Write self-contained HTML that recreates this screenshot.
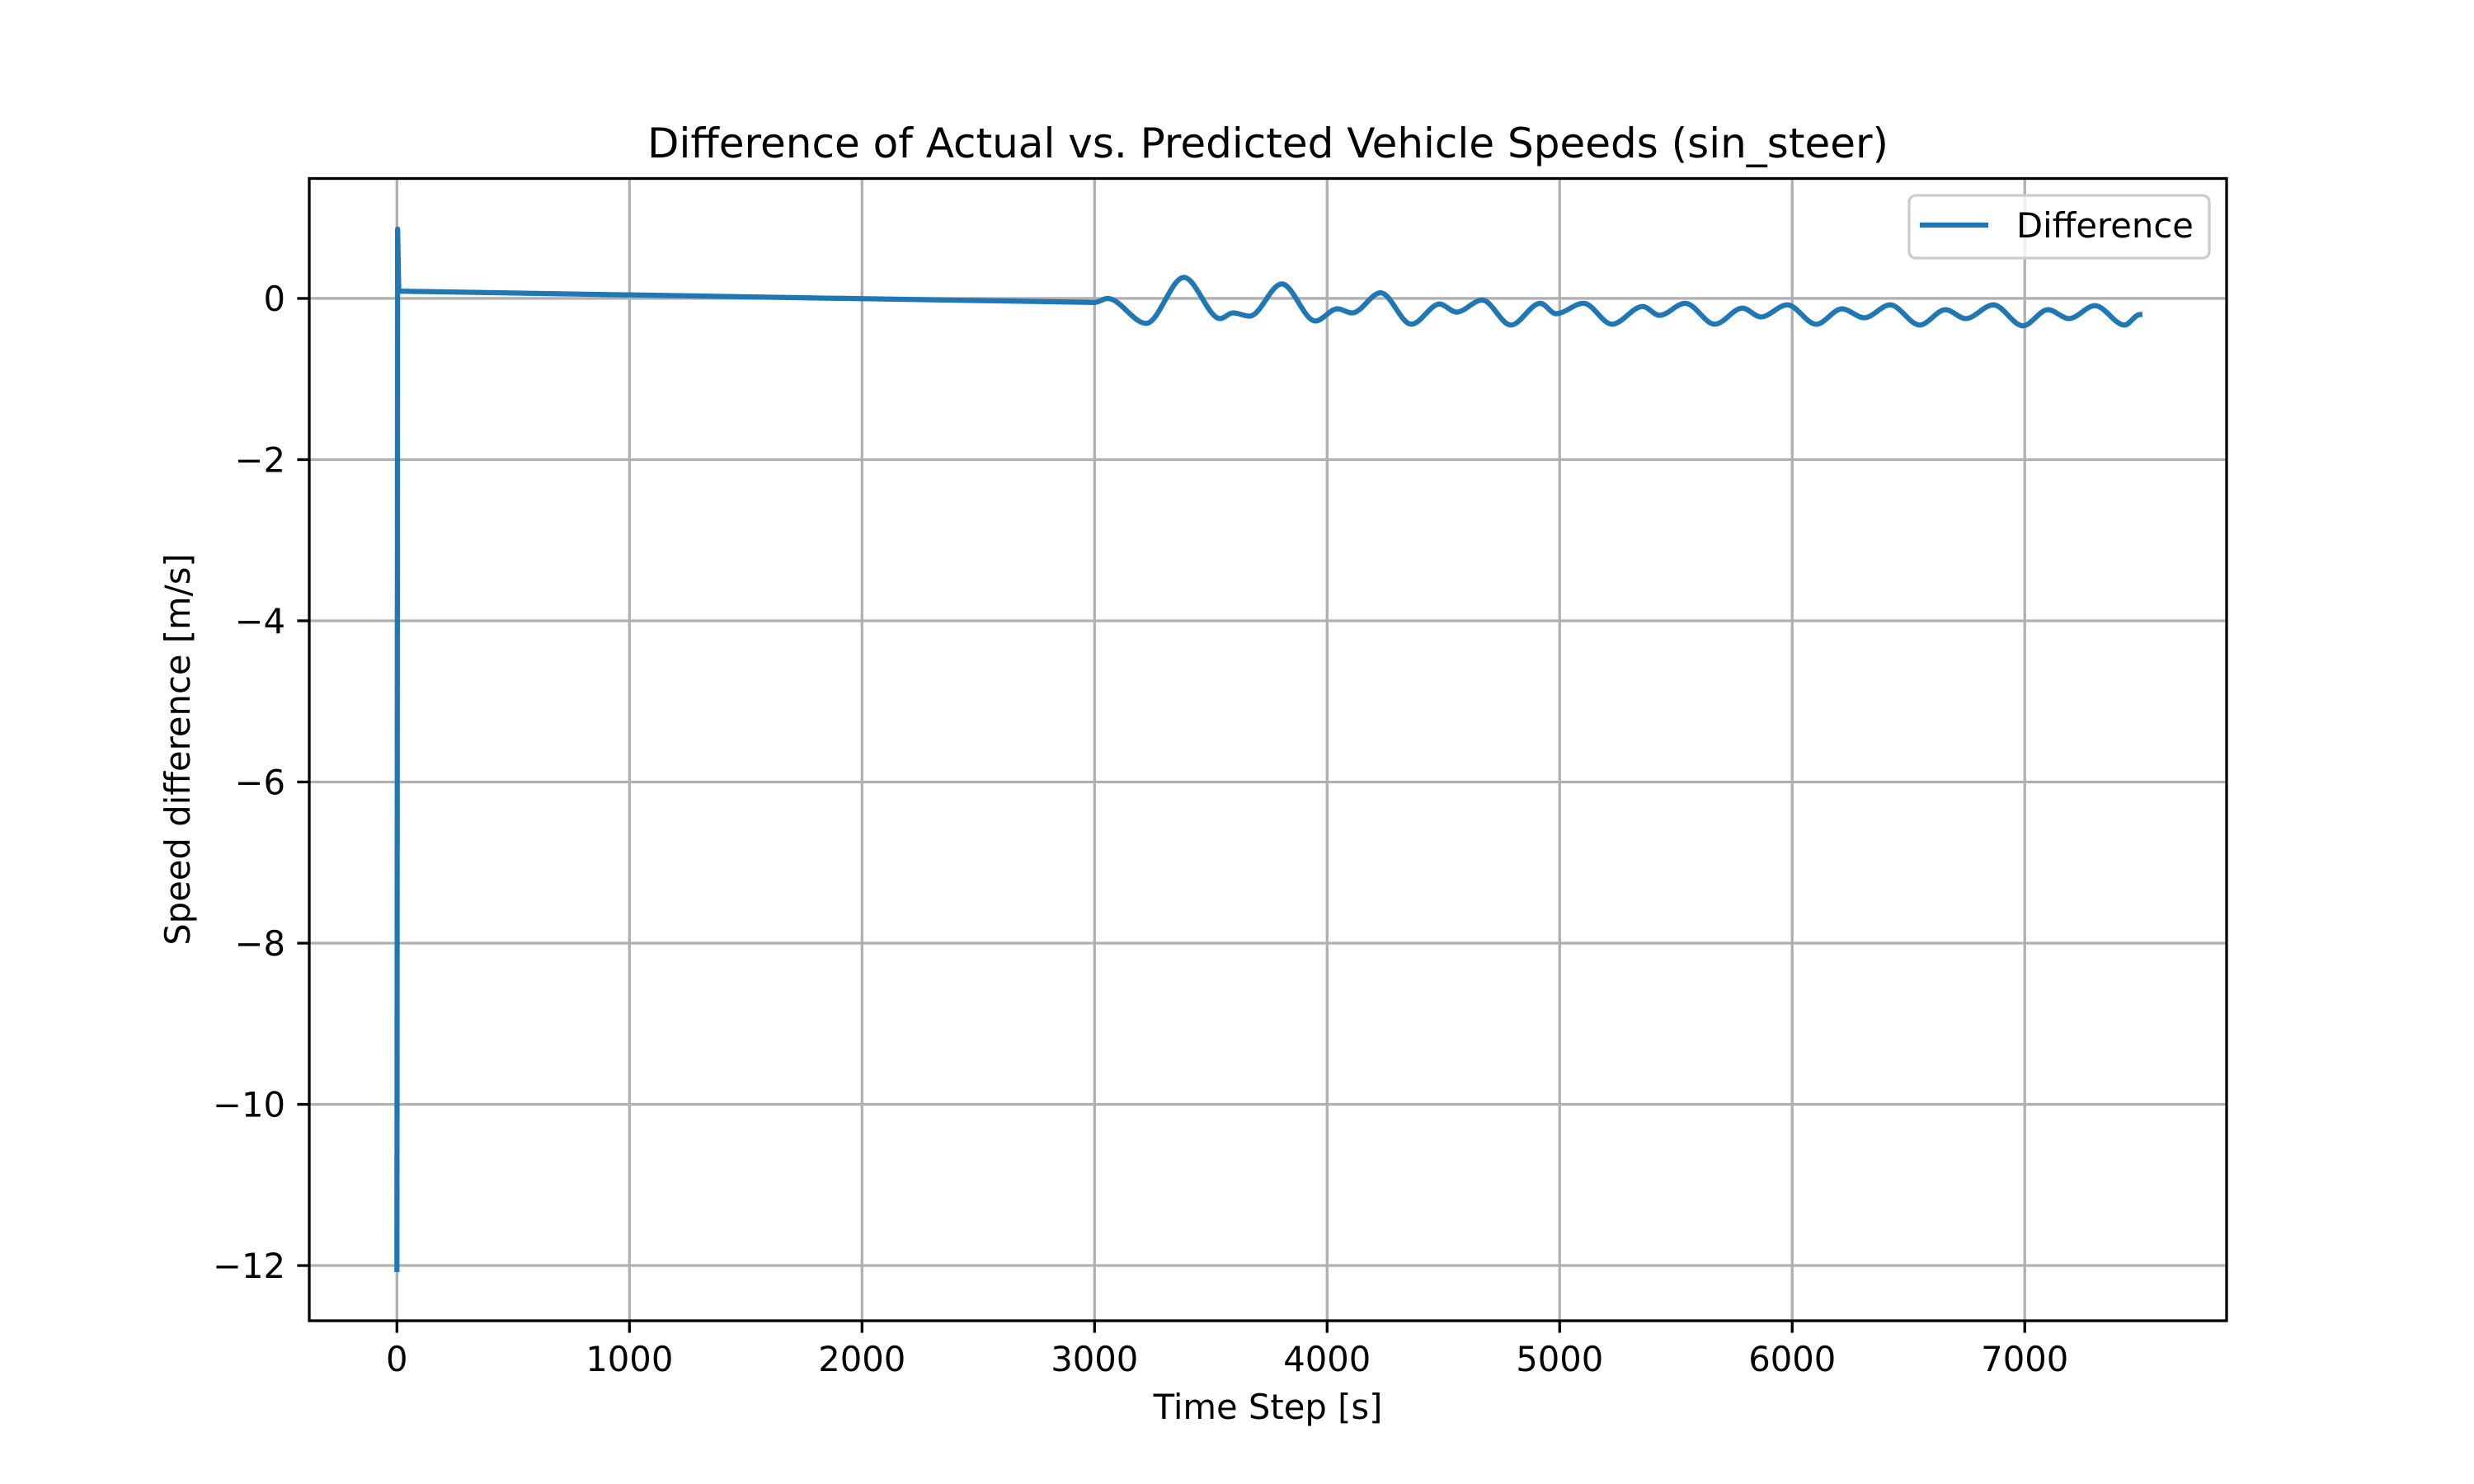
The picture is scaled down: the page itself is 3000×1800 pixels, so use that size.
<!DOCTYPE html>
<html><head><meta charset="utf-8"><style>
html,body{margin:0;padding:0;background:#fff;}
svg{display:block;font-family:"DejaVu Sans","Liberation Sans",sans-serif;}
</style></head><body>
<svg id="chart" width="3000" height="1800" viewBox="0 0 3000 1800">
<rect x="0" y="0" width="3000" height="1800" fill="#fff"/>
<g id="grid"></g>
<g id="series"></g>
<g id="axes"></g>
<text x="1537.5" y="191" text-anchor="middle" font-size="50" fill="#000">Difference of Actual vs. Predicted Vehicle Speeds (sin_steer)</text>
<text x="1537.5" y="1721" text-anchor="middle" font-size="41.7" fill="#000">Time Step [s]</text>
<text transform="translate(230,909) rotate(-90)" text-anchor="middle" font-size="41.7" fill="#000">Speed difference [m/s]</text>
<g>
<rect x="2315" y="237" width="364" height="76" rx="8" fill="#fff" fill-opacity="0.8" stroke="#cccccc" stroke-width="3.3"/>
<line x1="2328" y1="273" x2="2411" y2="273" stroke="#1f77b4" stroke-width="6.25"/>
<text x="2445" y="288" font-size="41.7" fill="#000">Difference</text>
</g>
</svg>
<script>
const xTicks = [0,1000,2000,3000,4000,5000,6000,7000];
const yTicks = [0,-2,-4,-6,-8,-10,-12];
const tValues = [0,3,8,3000,3056,3222,3384,3540,3595,3667,3805,3949,4044,4108,4230,4362,4484,4556,4667,4790,4917,4984,5103,5225,5357,5429,5540,5667,5786,5865,5979,6103,6214,6310,6421,6548,6659,6746,6865,6992,7100,7190,7302,7429,7495];
const diffValues = [-12.05,0.86,0.09,-0.05,0.0,-0.31,0.26,-0.25,-0.18,-0.22,0.18,-0.28,-0.13,-0.18,0.07,-0.32,-0.07,-0.17,-0.02,-0.33,-0.06,-0.19,-0.06,-0.32,-0.10,-0.21,-0.06,-0.32,-0.12,-0.23,-0.08,-0.32,-0.13,-0.24,-0.08,-0.33,-0.14,-0.25,-0.08,-0.34,-0.14,-0.25,-0.09,-0.33,-0.20];
const smoothFrom = 3;

const L=375, R=2700, T=216.5, B=1602;
const x0=-377, x1=7868, y0=-12.685, y1=1.488;
function sx(v){return L+(v-x0)/(x1-x0)*(R-L);}
function sy(v){return B-(v-y0)/(y1-y0)*(B-T);}
const NS="http://www.w3.org/2000/svg";
function mk(tag,attrs,parent){const e=document.createElementNS(NS,tag);for(const k in attrs)e.setAttribute(k,attrs[k]);parent.appendChild(e);return e;}
const grid=document.getElementById('grid'), axes=document.getElementById('axes'), series=document.getElementById('series');

xTicks.forEach(v=>{
  const g=mk('line',{x1:sx(v),x2:sx(v),y1:T,y2:B,stroke:'#b0b0b0','stroke-width':3.3},grid);
  
  
  const t=mk('line',{x1:sx(v),x2:sx(v),y1:B,y2:B+14.6,stroke:'#000','stroke-width':3.3},axes);
  
  
  const lb=mk('text',{x:sx(v),y:B+61,'text-anchor':'middle','font-size':41.7,fill:'#000'},axes);
  lb.textContent=String(v);
  
  
});
yTicks.forEach(v=>{
  const g=mk('line',{x1:L,x2:R,y1:sy(v),y2:sy(v),stroke:'#b0b0b0','stroke-width':3.3},grid);
  
  
  const t=mk('line',{x1:L-14.6,x2:L,y1:sy(v),y2:sy(v),stroke:'#000','stroke-width':3.3},axes);
  
  
  const lb=mk('text',{x:L-29,y:sy(v)+15,'text-anchor':'end','font-size':41.7,fill:'#000'},axes);
  lb.textContent=(v<0?'\u2212'+Math.abs(v):String(v));
  
  
});
const frame=mk('rect',{x:L,y:T,width:R-L,height:B-T,fill:'none',stroke:'#000','stroke-width':3.3},axes);



let d='M'+sx(tValues[0])+' '+sy(diffValues[0]);
for(let i=1;i<tValues.length;i++){
  const X=sx(tValues[i]), Y=sy(diffValues[i]);
  if(i>smoothFrom){
    const PX=sx(tValues[i-1]), PY=sy(diffValues[i-1]);
    const dx=(X-PX)/3;
    d+=' C'+(PX+dx)+' '+PY+' '+(X-dx)+' '+Y+' '+X+' '+Y;
  } else d+=' L'+X+' '+Y;
}
const p=mk('path',{d:d,fill:'none',stroke:'#1f77b4','stroke-width':6.25,'stroke-linejoin':'round','stroke-linecap':'square'},series);


</script>
</body></html>
